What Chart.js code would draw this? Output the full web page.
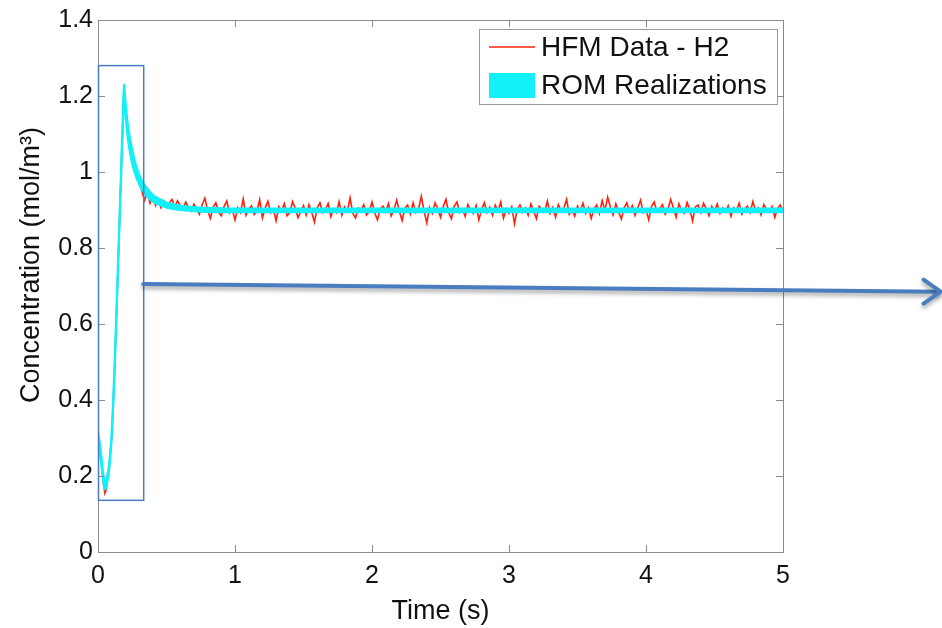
<!DOCTYPE html>
<html>
<head>
<meta charset="utf-8">
<script src="https://cdn.jsdelivr.net/npm/chart.js@4.4.1/dist/chart.umd.min.js"></script>
<style>
  html, body { margin: 0; padding: 0; background: #fff; }
  #chart { display: block; }
</style>
</head>
<body>
<canvas id="chart" width="942" height="628"></canvas>
<script>
// HFM data - start-up transient (explicit times), then steady part sampled every DT
var SPIKE_T = [0, 0.02, 0.04, 0.05, 0.06, 0.08, 0.10, 0.12, 0.14, 0.16, 0.18, 0.19, 0.20, 0.22, 0.24, 0.26, 0.28, 0.30, 0.32, 0.34, 0.36, 0.38, 0.40, 0.42, 0.44, 0.46, 0.48, 0.50];
var SPIKE_C = [0.31, 0.26, 0.18, 0.155, 0.165, 0.22, 0.30, 0.47, 0.68, 0.90, 1.12, 1.22, 1.17, 1.10, 1.06, 1.03, 1.00, 0.975, 0.950, 0.925, 0.948, 0.918, 0.935, 0.912, 0.928, 0.906, 0.924, 0.910];

var STEADY_T0 = 0.52, DT = 0.02;
var STEADY_C = [
  .918,.928,.907,.924,.912,.903,.921,.908,.897,.915,
  .904,.889,.913,.931,.899,.878,.907,.919,.894,.885,
  .909,.924,.892,.901,.874,.906,.893,.929,.886,.902,
  .911,.888,.897,.927,.879,.905,.923,.893,.902,.872,
  .909,.897,.917,.885,.893,.922,.904,.880,.896,.912,
  .887,.914,.894,.868,.906,.919,.893,.901,.917,.882,
  .903,.893,.922,.886,.908,.896,.932,.891,.879,.905,
  .900,.914,.887,.896,.921,.892,.874,.903,.910,.895,
  .917,.884,.900,.926,.896,.872,.905,.913,.889,.919,
  .893,.903,.936,.897,.866,.907,.891,.919,.904,.881,
  .909,.928,.893,.877,.910,.921,.894,.903,.883,.914,
  .899,.891,.912,.874,.901,.919,.893,.907,.886,.913,
  .897,.921,.879,.903,.891,.908,.864,.901,.913,.894,
  .905,.886,.916,.897,.877,.910,.901,.895,.923,.891,
  .907,.881,.914,.897,.904,.928,.889,.901,.884,.910,
  .897,.918,.891,.906,.878,.903,.913,.891,.925,.899,
  .934,.908,.887,.916,.895,.876,.905,.919,.896,.911,
  .886,.906,.926,.893,.901,.874,.909,.921,.895,.903,
  .914,.889,.901,.928,.905,.881,.916,.897,.891,.920,
  .901,.871,.908,.913,.893,.918,.903,.885,.910,.897,
  .916,.891,.905,.895,.911,.883,.906,.899,.918,.889,
  .903,.910,.893,.922,.897,.906,.887,.914,.901,.895,
  .909,.881,.904,.913,.894
];

// ROM realizations envelope
var ROM_T  = [0, 0.02, 0.04, 0.05, 0.06, 0.08, 0.10, 0.12, 0.14, 0.16, 0.18, 0.19, 0.20, 0.22, 0.25, 0.28, 0.32, 0.36, 0.40, 0.45, 0.50, 0.60, 0.70, 0.80, 1.0, 1.5, 2, 3, 4, 5];
var ROM_LO = [0.29, 0.24, 0.18, 0.165, 0.17, 0.21, 0.30, 0.46, 0.67, 0.89, 1.10, 1.205, 1.15, 1.08, 1.02, 0.985, 0.953, 0.935, 0.922, 0.913, 0.906, 0.900, 0.897, 0.895, 0.894, 0.894, 0.894, 0.894, 0.894, 0.894];
var ROM_HI = [0.32, 0.27, 0.20, 0.185, 0.19, 0.23, 0.32, 0.49, 0.70, 0.92, 1.14, 1.23, 1.19, 1.12, 1.06, 1.015, 0.978, 0.957, 0.940, 0.929, 0.920, 0.912, 0.908, 0.906, 0.904, 0.904, 0.904, 0.904, 0.904, 0.904];

var X_TICKS = [0, 1, 2, 3, 4, 5];
var Y_TICKS = [0, 0.2, 0.4, 0.6, 0.8, 1, 1.2, 1.4];
var LABELS = ['HFM Data - H2', 'ROM Realizations'];

// annotation: zoom box and arrow (data units)
var BOX = { t0: 0, t1: 0.33, c0: 0.136, c1: 1.28 };
var ARROW = { t0: 0.33, c0: 0.705, t1: 6.15, c1: 0.685 };

var RED = '#ff2010', CYAN = '#12f0f8', BLUE = '#4a7dc0', AXIS = '#8a8a8a';
var FONT = '"Liberation Sans", Arial, Helvetica, sans-serif';

var hfm = [];
for (var i = 0; i < SPIKE_T.length; i++) hfm.push({ x: SPIKE_T[i], y: SPIKE_C[i] });
for (var j = 0; j < STEADY_C.length; j++) hfm.push({ x: +(STEADY_T0 + j * DT).toFixed(2), y: STEADY_C[j] });

var romLo = ROM_T.map(function(t, i) { return { x: t, y: ROM_LO[i] }; });
var romHi = ROM_T.map(function(t, i) { return { x: t, y: ROM_HI[i] }; });

function fmt(v) { return String(Number(v.toFixed(1))); }

// MATLAB-like box, inward ticks, legend, y title and annotation
var decor = {
  id: 'decor',
  afterDraw: function(chart) {
    var ctx = chart.ctx, a = chart.chartArea;
    var xs = chart.scales.x, ys = chart.scales.y;
    ctx.save();
    // box
    ctx.strokeStyle = AXIS; ctx.lineWidth = 1;
    ctx.strokeRect(a.left + 0.5, a.top + 0.5, a.right - a.left, a.bottom - a.top);
    // inward ticks
    ctx.beginPath();
    X_TICKS.forEach(function(t) {
      var px = Math.round(xs.getPixelForValue(t)) + 0.5;
      ctx.moveTo(px, a.bottom); ctx.lineTo(px, a.bottom - 7);
      ctx.moveTo(px, a.top); ctx.lineTo(px, a.top + 7);
    });
    Y_TICKS.forEach(function(v) {
      var py = Math.round(ys.getPixelForValue(v)) + 0.5;
      ctx.moveTo(a.left, py); ctx.lineTo(a.left + 7, py);
      ctx.moveTo(a.right, py); ctx.lineTo(a.right - 7, py);
    });
    ctx.stroke();

    // y title
    ctx.fillStyle = '#111';
    ctx.font = '27px ' + FONT;
    ctx.textAlign = 'center'; ctx.textBaseline = 'middle';
    ctx.translate(32, 265); ctx.rotate(-Math.PI / 2);
    ctx.fillText('Concentration (mol/m\u00b3)', 0, 0);
    ctx.setTransform(1, 0, 0, 1, 0, 0);

    // legend
    var lx = 479, ly = 29, lw = 298, lh = 75;
    ctx.fillStyle = '#fff'; ctx.fillRect(lx, ly, lw, lh);
    ctx.strokeStyle = '#9a9a9a'; ctx.lineWidth = 1;
    ctx.strokeRect(lx + 0.5, ly + 0.5, lw, lh);
    ctx.strokeStyle = RED; ctx.lineWidth = 1.5;
    ctx.beginPath(); ctx.moveTo(489, 47); ctx.lineTo(535, 47); ctx.stroke();
    ctx.fillStyle = CYAN; ctx.fillRect(489, 73, 46, 25);
    ctx.fillStyle = '#111'; ctx.font = '28px ' + FONT;
    ctx.textAlign = 'left'; ctx.textBaseline = 'middle';
    ctx.fillText(LABELS[0], 541, 48);
    ctx.fillText(LABELS[1], 541, 86);

    // zoom box
    var bx0 = xs.getPixelForValue(BOX.t0), bx1 = xs.getPixelForValue(BOX.t1);
    var by0 = ys.getPixelForValue(BOX.c1), by1 = ys.getPixelForValue(BOX.c0);
    ctx.strokeStyle = BLUE; ctx.lineWidth = 1.5;
    ctx.strokeRect(bx0 + 0.5, by0, bx1 - bx0, by1 - by0);

    // arrow with shadow
    var ax0 = xs.getPixelForValue(ARROW.t0), ay0 = ys.getPixelForValue(ARROW.c0);
    var ax1 = xs.getPixelForValue(ARROW.t1), ay1 = ys.getPixelForValue(ARROW.c1);
    ctx.shadowColor = 'rgba(0,0,0,0.35)'; ctx.shadowBlur = 4; ctx.shadowOffsetY = 3;
    ctx.strokeStyle = BLUE; ctx.lineWidth = 4; ctx.lineCap = 'round'; ctx.lineJoin = 'round';
    ctx.beginPath(); ctx.moveTo(ax0, ay0); ctx.lineTo(ax1 - 2, ay1); ctx.stroke();
    ctx.beginPath();
    ctx.moveTo(ax1 - 17, ay1 - 12); ctx.lineTo(ax1, ay1); ctx.lineTo(ax1 - 17, ay1 + 12);
    ctx.stroke();
    ctx.restore();
  }
};

new Chart(document.getElementById('chart'), {
  type: 'line',
  data: {
    datasets: [
      { label: 'ROM low', data: romLo, borderColor: CYAN, borderWidth: 2, pointRadius: 0, tension: 0.3, fill: false },
      { label: LABELS[1], data: romHi, borderColor: CYAN, backgroundColor: CYAN, borderWidth: 2, pointRadius: 0, tension: 0.3, fill: '-1' },
      { label: LABELS[0], data: hfm, borderColor: RED, borderWidth: 1.6, pointRadius: 0, tension: 0, fill: false }
    ]
  },
  options: {
    responsive: false,
    animation: false,
    events: [],
    layout: { padding: { top: 18, right: 159, left: 0, bottom: 0 } },
    plugins: { legend: { display: false }, tooltip: { enabled: false } },
    scales: {
      x: {
        type: 'linear', min: 0, max: 5,
        afterFit: function(s) { s.height = 76; },
        afterBuildTicks: function(s) { s.ticks = X_TICKS.map(function(v) { return { value: v }; }); },
        grid: { display: true, drawOnChartArea: false, drawTicks: false },
        border: { display: true, color: AXIS },
        ticks: { padding: 9, color: '#111', font: { family: FONT, size: 25 }, maxRotation: 0, callback: function(v) { return fmt(v); } },
        title: { display: true, text: 'Time (s)', color: '#111', font: { family: FONT, size: 27 }, padding: { top: 4, bottom: 0 } }
      },
      y: {
        type: 'linear', min: 0, max: 1.4,
        afterFit: function(s) { s.width = 98; },
        afterBuildTicks: function(s) { s.ticks = Y_TICKS.map(function(v) { return { value: v }; }); },
        grid: { display: true, drawOnChartArea: false, drawTicks: false },
        border: { display: true, color: AXIS },
        ticks: { padding: 5, color: '#111', font: { family: FONT, size: 25 }, callback: function(v) { return fmt(v); } }
      }
    }
  },
  plugins: [decor]
});
</script>
</body>
</html>
